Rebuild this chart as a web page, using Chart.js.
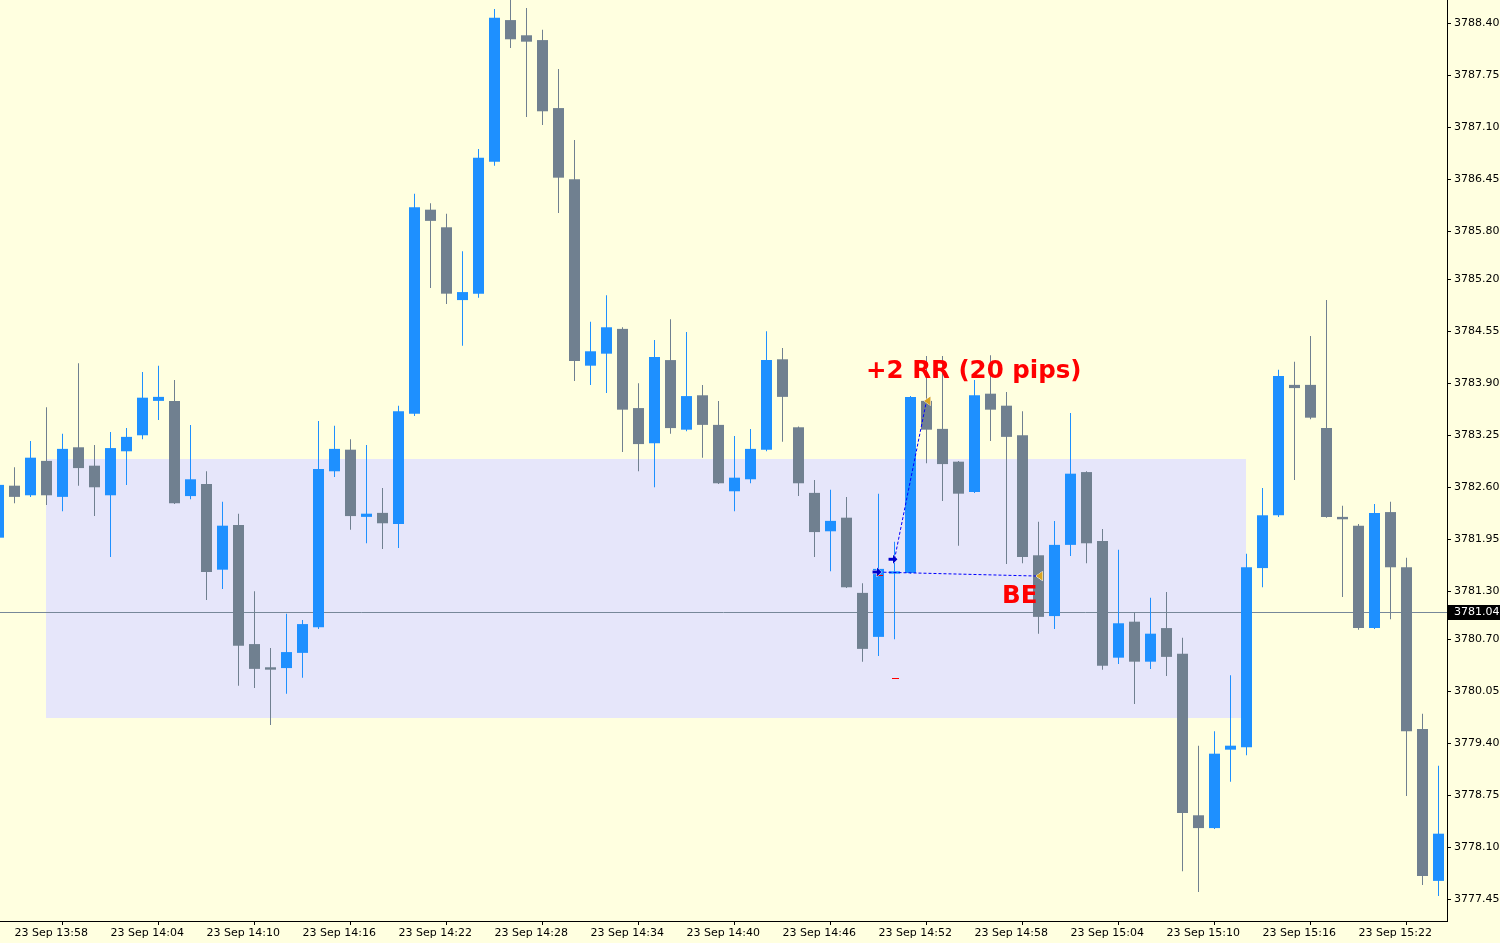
<!DOCTYPE html>
<html><head><meta charset="utf-8">
<script src="https://cdn.jsdelivr.net/npm/chart.js@4.4.1/dist/chart.umd.min.js"></script>
<style>html,body{margin:0;padding:0;background:#FFFFE0;overflow:hidden}#wrap{width:1500px;height:943px}canvas{display:block}</style>
</head><body><div id="wrap"><canvas id="c" width="1500" height="943"></canvas></div>
<script>
const times = ['13:57','13:58','13:59',
'14:00','14:01','14:02','14:03','14:04','14:05','14:06','14:07','14:08','14:09',
'14:10','14:11','14:12','14:13','14:14','14:15','14:16','14:17','14:18','14:19',
'14:20','14:21','14:22','14:23','14:24','14:25','14:26','14:27','14:28','14:29',
'14:30','14:31','14:32','14:33','14:34','14:35','14:36','14:37','14:38','14:39',
'14:40','14:41','14:42','14:43','14:44','14:45','14:46','14:47','14:48','14:49',
'14:50','14:51','14:52','14:53','14:54','14:55','14:56','14:57','14:58','14:59',
'15:00','15:01','15:02','15:03','15:04','15:05','15:06','15:07','15:08','15:09',
'15:10','15:11','15:12','15:13','15:14','15:15','15:16','15:17','15:18','15:19',
'15:20','15:21','15:22','15:23','15:24','15:25','15:26','15:27'];

const opens = [3781.97,3782.62,3782.50,3782.93,3782.48,3783.10,3782.87,3782.50,3783.05,3783.25,
3783.68,3783.68,3782.49,3782.64,3781.57,3782.13,3780.64,3780.35,3780.34,3780.53,
3780.85,3782.80,3783.07,3782.23,3782.28,3782.14,3783.52,3786.07,3785.85,3784.94,
3785.02,3786.67,3788.44,3788.25,3788.19,3787.34,3786.45,3784.12,3784.27,3784.58,
3783.59,3783.15,3784.19,3783.32,3783.75,3783.38,3782.55,3782.70,3783.07,3784.20,
3783.35,3782.53,3782.05,3782.22,3781.28,3780.73,3781.52,3781.53,3783.68,3783.33,
3782.92,3782.54,3783.77,3783.62,3783.25,3781.75,3780.99,3781.88,3782.79,3781.93,
3780.47,3780.92,3780.42,3780.84,3780.52,3778.50,3778.34,3779.32,3779.35,3781.59,
3782.25,3783.88,3783.88,3783.34,3782.23,3782.12,3780.84,3782.29,3781.60,3779.58,
3777.68];
const highs = [3782.65,3782.85,3783.18,3783.60,3783.27,3784.15,3783.13,3783.29,3783.34,3784.04,
3784.12,3783.94,3783.38,3782.80,3782.42,3782.27,3781.30,3780.59,3781.02,3780.94,
3783.43,3783.37,3783.20,3783.13,3782.59,3783.62,3786.27,3786.15,3786.02,3785.55,
3786.83,3788.58,3788.72,3788.59,3788.32,3787.83,3786.94,3784.67,3785.00,3784.60,
3783.90,3784.44,3784.70,3784.54,3783.88,3783.68,3783.24,3783.33,3784.55,3784.34,
3783.36,3782.69,3782.57,3782.48,3781.40,3782.52,3781.92,3783.74,3784.24,3784.24,
3782.93,3783.94,3784.25,3783.79,3783.55,3782.17,3782.18,3783.53,3782.80,3782.08,
3781.82,3781.04,3781.22,3781.29,3780.72,3779.37,3779.55,3780.25,3781.77,3782.59,
3784.07,3784.17,3784.49,3784.94,3782.37,3782.14,3782.39,3782.42,3781.72,3779.77,
3779.12];
const lows = [3781.94,3782.40,3782.48,3782.38,3782.30,3782.62,3782.24,3781.73,3782.63,3783.20,
3783.44,3782.39,3782.45,3781.19,3781.33,3780.12,3780.09,3779.63,3780.02,3780.22,
3780.83,3782.73,3782.07,3781.90,3781.83,3781.84,3783.49,3785.09,3784.89,3784.37,
3784.97,3786.62,3788.09,3787.23,3787.13,3786.03,3783.93,3783.88,3783.78,3783.04,
3782.80,3782.60,3783.27,3783.30,3782.97,3782.64,3782.30,3782.65,3783.05,3783.17,
3782.49,3781.73,3781.55,3781.34,3780.42,3780.49,3780.70,3781.52,3782.90,3782.43,
3781.87,3782.53,3783.18,3781.64,3781.65,3780.77,3780.83,3781.74,3781.65,3780.32,
3780.39,3779.89,3780.33,3780.24,3777.80,3777.54,3778.33,3778.92,3779.25,3781.35,
3782.23,3782.69,3783.45,3782.22,3781.23,3780.82,3780.83,3780.95,3778.74,3777.63,
3777.49];
const closes = [3782.63,3782.48,3782.97,3782.50,3783.08,3782.84,3782.60,3783.09,3783.23,3783.72,
3783.73,3782.40,3782.70,3781.54,3782.12,3780.62,3780.33,3780.32,3780.54,3780.89,
3782.83,3783.08,3782.24,3782.27,3782.15,3783.55,3786.10,3785.93,3785.02,3785.04,
3786.72,3788.47,3788.20,3788.17,3787.30,3786.47,3784.18,3784.30,3784.60,3783.57,
3783.14,3784.23,3783.34,3783.74,3783.38,3782.65,3782.72,3783.08,3784.19,3783.73,
3782.65,3782.04,3782.18,3781.35,3780.58,3781.58,3781.55,3783.73,3783.32,3782.89,
3782.52,3783.75,3783.57,3783.23,3781.73,3780.98,3781.88,3782.77,3781.90,3780.37,
3780.90,3780.42,3780.77,3780.48,3778.53,3778.34,3779.27,3779.37,3781.60,3782.25,
3783.99,3783.84,3783.47,3782.23,3782.20,3780.84,3782.28,3781.60,3779.55,3777.74,
3778.27];

const xTickLabels = ['23 Sep 13:58','23 Sep 14:04','23 Sep 14:10','23 Sep 14:16','23 Sep 14:22',
'23 Sep 14:28','23 Sep 14:34','23 Sep 14:40','23 Sep 14:46','23 Sep 14:52','23 Sep 14:58',
'23 Sep 15:04','23 Sep 15:10','23 Sep 15:16','23 Sep 15:22'];
const yTicks = [3788.40,3787.75,3787.10,3786.45,3785.80,3785.20,3784.55,3783.90,3783.25,
3782.60,3781.95,3781.30,3780.70,3780.05,3779.40,3778.75,3778.10,3777.45];

const currentPrice = 3781.04;
const zoneTimes = ['14:00','15:15'];
const zonePrices = [3782.95, 3779.72];
const tradeOpenTimes = ['14:52','14:53'];
const tradeOpenPrices = [3781.54, 3781.70];
const tradeCloseTimes = ['15:02','14:55'];
const tradeClosePrices = [3781.49, 3783.68];
const tradeStops = [3781.50, 3780.22];
const noteTexts = ['+2 RR (20 pips)', 'BE'];
const noteTimes = [54.22, 62.72];
const notePrices = [3784.05, 3781.23];

const BULL = '#1E90FF', BEAR = '#708090';
const idx = t => times.indexOf(t);
const candleColors = opens.map((o,i)=> closes[i] >= o ? BULL : BEAR);
const bodyData = times.map((t,i)=>({x:i, y:[opens[i], closes[i]]}));
const wickData = times.map((t,i)=>({x:i, y:[lows[i], highs[i]]}));
const xTickPos = xTickLabels.map(l => idx(l.slice(7)));

const overlay = {
  id:'overlay',
  beforeDraw(chart){
    const c = chart.ctx; c.save(); c.fillStyle='#FFFFE0'; c.fillRect(0,0,chart.width,chart.height); c.restore();
  },
  beforeDatasetsDraw(chart){
    const {ctx, chartArea:a, scales:{x,y}} = chart;
    ctx.save();
    ctx.beginPath(); ctx.rect(a.left,a.top,a.right-a.left,a.bottom-a.top); ctx.clip();
    const x1 = Math.floor(x.getPixelForValue(idx(zoneTimes[0])));
    const x2 = Math.floor(x.getPixelForValue(idx(zoneTimes[1])));
    const y1 = Math.round(y.getPixelForValue(zonePrices[0]));
    const y2 = Math.round(y.getPixelForValue(zonePrices[1]));
    ctx.fillStyle = '#E6E6FA';
    ctx.fillRect(x1, y1, x2-x1, y2-y1);
    const py = Math.round(y.getPixelForValue(currentPrice)) + 0.5;
    ctx.strokeStyle = '#778899'; ctx.lineWidth = 1;
    ctx.beginPath(); ctx.moveTo(a.left, py); ctx.lineTo(a.right, py); ctx.stroke();
    ctx.restore();
  },
  afterDatasetsDraw(chart){
    const {ctx, chartArea:a, scales:{x,y}} = chart;
    ctx.save();
    ctx.beginPath(); ctx.rect(a.left,a.top,a.right-a.left,a.bottom-a.top); ctx.clip();
    for (let k=0;k<tradeOpenTimes.length;k++){
      const ox = x.getPixelForValue(idx(tradeOpenTimes[k]));
      const oy = y.getPixelForValue(tradeOpenPrices[k]);
      const cx = x.getPixelForValue(idx(tradeCloseTimes[k]));
      const cy = y.getPixelForValue(tradeClosePrices[k]);
      ctx.strokeStyle = '#0000FF'; ctx.lineWidth = 1; ctx.setLineDash([3,2]);
      ctx.beginPath(); ctx.moveTo(ox, oy); ctx.lineTo(cx, cy); ctx.stroke();
      ctx.setLineDash([]);
      const sy = Math.round(y.getPixelForValue(tradeStops[k])) + 0.5;
      ctx.strokeStyle = '#FF0000';
      ctx.beginPath(); ctx.moveTo(Math.round(ox)-3, sy); ctx.lineTo(Math.round(ox)+4, sy); ctx.stroke();
      ctx.save(); ctx.translate(ox-1.5, oy);
      ctx.beginPath();
      ctx.moveTo(-4.5,-1.5); ctx.lineTo(0,-1.5); ctx.lineTo(0,-4.5); ctx.lineTo(4.5,0);
      ctx.lineTo(0,4.5); ctx.lineTo(0,1.5); ctx.lineTo(-4.5,1.5); ctx.closePath();
      ctx.fillStyle = '#0000CD'; ctx.strokeStyle = '#FFFFFF'; ctx.lineWidth = 1;
      ctx.stroke(); ctx.fill();
      ctx.restore();
      ctx.save(); ctx.translate(cx, cy);
      ctx.beginPath(); ctx.moveTo(-2.5,0); ctx.lineTo(4,-4.5); ctx.lineTo(4,4.5); ctx.closePath();
      ctx.fillStyle = '#DAA520'; ctx.strokeStyle = '#FFFFFF'; ctx.lineWidth = 1;
      ctx.stroke(); ctx.fill();
      ctx.restore();
    }
    ctx.fillStyle = '#FF0000';
    ctx.font = "bold 24.5px 'DejaVu Sans'";
    ctx.textAlign = 'left'; ctx.textBaseline = 'middle';
    for (let k=0;k<noteTexts.length;k++){
      ctx.fillText(noteTexts[k], x.getPixelForValue(noteTimes[k]), y.getPixelForValue(notePrices[k]));
    }
    ctx.restore();
  },
  afterDraw(chart){
    const {ctx, chartArea:a, scales:{y}} = chart;
    const py = Math.round(y.getPixelForValue(currentPrice));
    ctx.save();
    ctx.fillStyle = '#000000';
    ctx.fillRect(a.right+1, py-7, chart.width-a.right-1, 15);
    ctx.fillStyle = '#FFFFFF';
    ctx.font = "11px 'DejaVu Sans'";
    ctx.textAlign='left'; ctx.textBaseline='middle';
    ctx.fillText(currentPrice.toFixed(2), a.right+7, py+0.5);
    ctx.restore();
  }
};

new Chart(document.getElementById('c'), {
  type:'bar',
  data:{ datasets:[
    {label:'body', data: bodyData, backgroundColor: candleColors, borderWidth:0, barThickness:11,
     grouped:false, minBarLength:1, inflateAmount:0},
    {label:'wick', data: wickData, backgroundColor: candleColors, borderWidth:0, barThickness:1,
     grouped:false, inflateAmount:0}
  ]},
  options:{
    responsive:false, animation:false, devicePixelRatio:1,
    layout:{padding:0},
    plugins:{legend:{display:false}, tooltip:{enabled:false}},
    scales:{
      x:{ type:'linear', position:'bottom', min:0.09375, max:90.53125, offset:false,
        grid:{drawOnChartArea:false, drawTicks:true, tickLength:4, color:'#000000'},
        border:{display:true, color:'#000000', width:1},
        ticks:{autoSkip:false, maxRotation:0, minRotation:0, align:'start', padding:2,
          color:'#000000', font:{family:"'DejaVu Sans'", size:11},
          callback:(v,i)=> xTickLabels[i]},
        afterBuildTicks: s => { s.ticks = xTickPos.map(v=>({value:v})); },
        afterFit: s => { s.height = 22; s.paddingLeft=0; s.paddingRight=0; s.paddingTop=0; s.paddingBottom=0; }
      },
      y:{ type:'linear', position:'right', min:3777.1785, max:3788.691,
        grid:{drawOnChartArea:false, drawTicks:true, tickLength:4, color:'#000000'},
        border:{display:true, color:'#000000', width:1},
        ticks:{autoSkip:false, padding:3, color:'#000000', font:{family:"'DejaVu Sans'", size:11},
          callback:v=> Number(v).toFixed(2)},
        afterBuildTicks: s => { s.ticks = yTicks.map(v=>({value:v})); },
        afterFit: s => { s.width = 53; s.paddingTop=0; s.paddingBottom=0; s.paddingLeft=0; s.paddingRight=0; }
      }
    }
  },
  plugins:[overlay]
});
</script></body></html>
